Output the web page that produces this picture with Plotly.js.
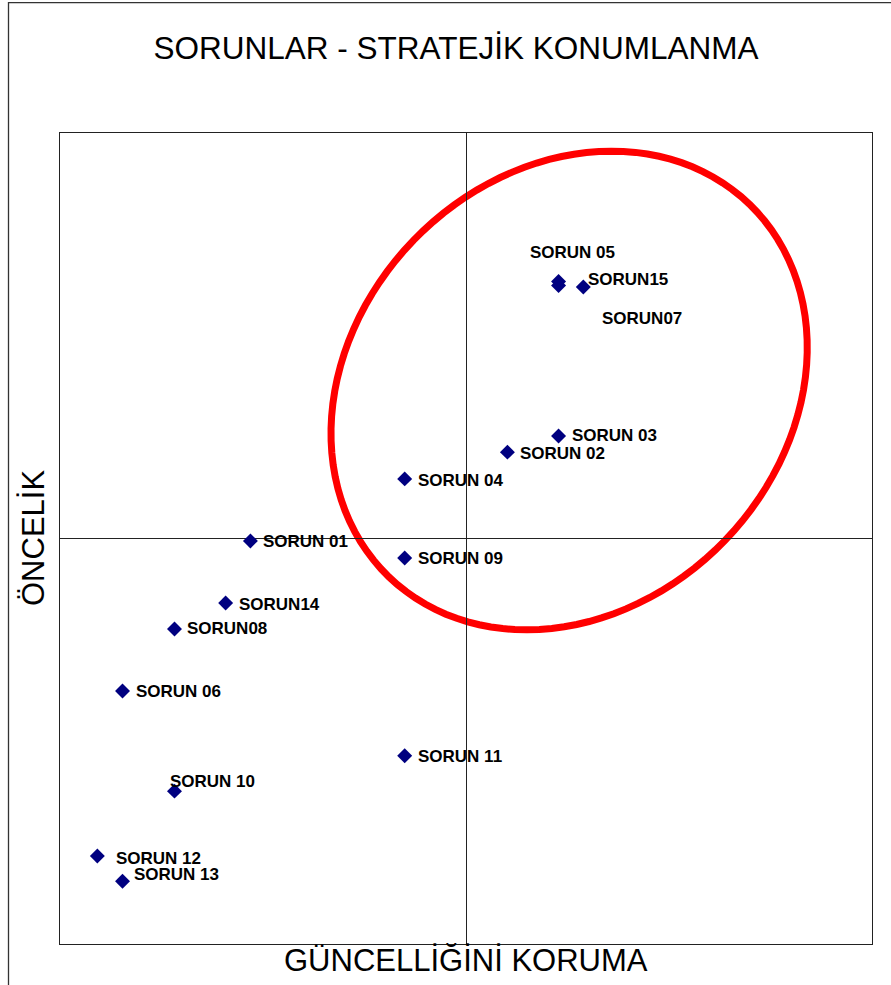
<!DOCTYPE html>
<html>
<head>
<meta charset="utf-8">
<script src="https://cdn.plot.ly/plotly-3.0.1.min.js"></script>
<style>html,body{margin:0;padding:0;background:#fff;}#chart{width:891px;height:985px;}</style>
</head>
<body>
<div id="chart"></div>
<script>
// ---- data (axis units -100..100, origin = quadrant centre) ----
const labels = ["SORUN 01","SORUN 02","SORUN 03","SORUN 04","SORUN 05","SORUN 06","SORUN07","SORUN08",
                "SORUN 09","SORUN 10","SORUN 11","SORUN 12","SORUN 13","SORUN14","SORUN15"];
const guncellik = [-53.1, 10.2, 22.8, -15.1, 22.8, -84.6, 22.8, -71.8, -15.1, -71.8, -15.1, -90.8, -84.6, -59.2, 28.9];
const oncelik   = [-0.6, 21.3, 25.3, 14.7, 63.4, -37.6, 62.4, -22.3, -4.8, -62.3, -53.6, -78.3, -84.5, -15.9, 62.0];

// label offsets in pixels [dx, dy] (dy positive = up)
const labelShift = [[11,-1],[11,-1],[11,0],[11,-2],[-31,29],[11,-1],[41,-33],[11,0],
                    [11,-1],[-6,10],[11,-1],[17,-2],[9,7],[11,-2],[3,8]];

// highlight ellipse (data units)
const ellipse = {cx: 25.4, cy: 36.5, a: 63.9, b: 53.3, rotDeg: 46};

const FONT = "Arial, 'Liberation Sans', sans-serif";

function ellipsePath(e){
  const th = e.rotDeg*Math.PI/180;
  let p = "";
  for(let i=0;i<=120;i++){
    const t = i/120*2*Math.PI;
    const x = e.cx + e.a*Math.cos(t)*Math.cos(th) - e.b*Math.sin(t)*Math.sin(th);
    const y = e.cy + e.a*Math.cos(t)*Math.sin(th) + e.b*Math.sin(t)*Math.cos(th);
    p += (i===0?"M":"L") + x.toFixed(3) + "," + y.toFixed(3);
  }
  return p + "Z";
}

const trace = {
  type: "scatter", mode: "markers",
  x: guncellik, y: oncelik, text: labels,
  marker: {symbol: "diamond", size: 11.5, color: "#000080", line: {width: 0}},
  hoverinfo: "text", cliponaxis: false
};

const annotations = labels.map((t,i)=>({
  x: guncellik[i], y: oncelik[i], xref: "x", yref: "y",
  text: t, showarrow: false, xanchor: "left", yanchor: "middle",
  xshift: labelShift[i][0], yshift: labelShift[i][1],
  font: {family: FONT, size: 17, color: "#000", weight: "bold"}
}));

annotations.push({
  text: "GÜNCELLİĞİNİ KORUMA", xref: "paper", yref: "paper", x: 0.5, y: (944-961)/811,
  xanchor: "center", yanchor: "middle", showarrow: false,
  font: {family: FONT, size: 31, color: "#000"}
});
annotations.push({
  text: "ÖNCELİK", xref: "paper", yref: "paper", x: (33-60)/812, y: (944-538)/811,
  xanchor: "center", yanchor: "middle", showarrow: false, textangle: -90,
  font: {family: FONT, size: 31, color: "#000"}
});

const axisCommon = {
  range: [-100, 100], showgrid: false, showticklabels: false, ticks: "",
  zeroline: true, zerolinecolor: "#222", zerolinewidth: 1,
  showline: true, mirror: true, linecolor: "#222", linewidth: 1.2, fixedrange: true
};

const layout = {
  width: 891, height: 985,
  margin: {l: 60, r: 19, t: 133, b: 41, pad: 0},
  paper_bgcolor: "#fff", plot_bgcolor: "#fff",
  showlegend: false,
  title: {
    text: "SORUNLAR - STRATEJİK KONUMLANMA",
    xref: "container", yref: "container", x: 456/891, y: 1-48/985,
    xanchor: "center", yanchor: "middle",
    font: {family: FONT, size: 31.5, color: "#000"}
  },
  xaxis: axisCommon,
  yaxis: Object.assign({}, axisCommon),
  annotations: annotations,
  shapes: [
    {type: "path", path: ellipsePath(ellipse), xref: "x", yref: "y",
     line: {color: "#ff0000", width: 7}, fillcolor: "rgba(0,0,0,0)", layer: "below"},
    {type: "rect", xref: "paper", yref: "paper",
     x0: (8.5-60)/812, x1: 1.5, y0: -0.5, y1: (944-2.7)/811,
     line: {color: "#333", width: 1.3}, fillcolor: "rgba(0,0,0,0)", layer: "above"}
  ]
};

Plotly.newPlot("chart", [trace], layout, {displayModeBar: false, staticPlot: true});
</script>
</body>
</html>
